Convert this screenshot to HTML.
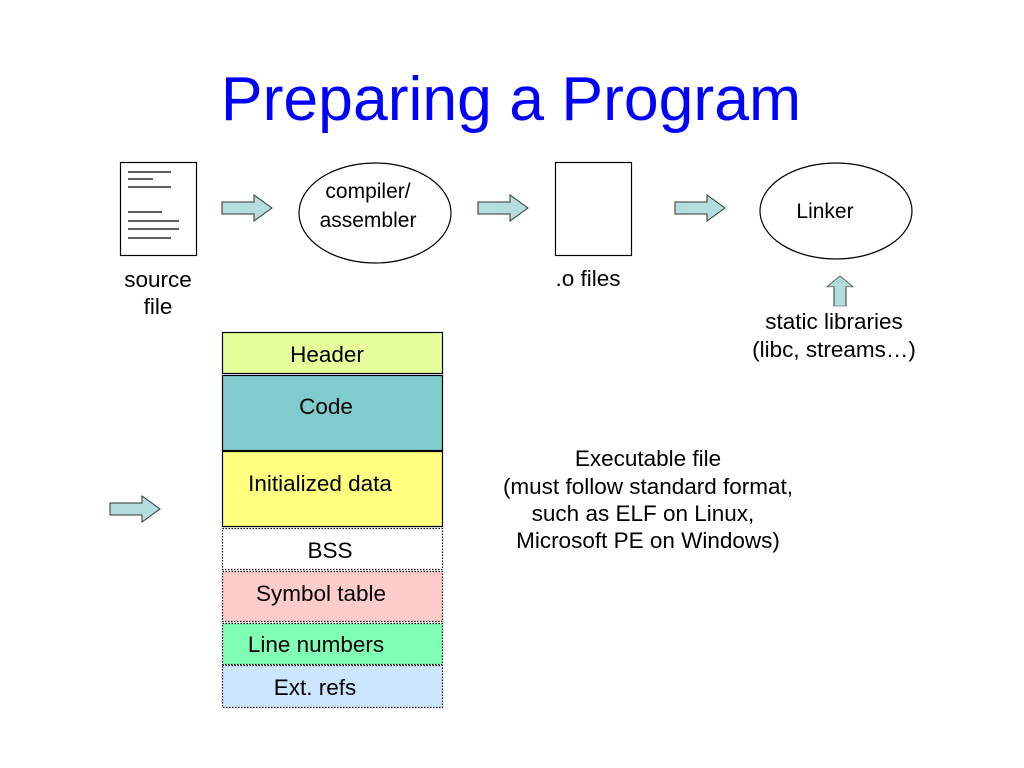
<!DOCTYPE html>
<html><head><style>body{margin:0;background:#fff}svg{display:block}</style></head><body>
<svg width="1024" height="768" xmlns="http://www.w3.org/2000/svg" font-family="Liberation Sans, sans-serif" font-size="22.5">
<text x="511" y="120" text-anchor="middle" font-size="62.5" fill="#0000ff">Preparing a Program</text>
<defs>
<path id="ar" d="M0,-6 H32 V-13 L50,0 L32,13 V6 H0 Z" fill="#b4dede" stroke="#333" stroke-width="1"/>
</defs>
<rect x="120.5" y="162.5" width="76" height="93" fill="#fff" stroke="#000" stroke-width="1.2"/>
<g stroke="#000" stroke-width="1.2">
<line x1="128" y1="172" x2="171" y2="172"/><line x1="128" y1="179" x2="153" y2="179"/><line x1="128" y1="187" x2="171" y2="187"/>
<line x1="128" y1="212" x2="162" y2="212"/><line x1="128" y1="221" x2="179" y2="221"/><line x1="128" y1="229" x2="179" y2="229"/><line x1="128" y1="238" x2="171" y2="238"/>
</g>
<text x="158" y="287" text-anchor="middle">source</text>
<text x="158" y="314" text-anchor="middle">file</text>
<use href="#ar" x="222" y="208"/>
<ellipse cx="375" cy="213" rx="76" ry="50" fill="#fff" stroke="#000" stroke-width="1.2"/>
<text x="368" y="198" text-anchor="middle" font-size="21">compiler/</text>
<text x="368" y="227" text-anchor="middle" font-size="21">assembler</text>
<use href="#ar" x="478" y="208"/>
<rect x="555.5" y="162.5" width="76" height="93" fill="#fff" stroke="#000" stroke-width="1.2"/>
<text x="588" y="286" text-anchor="middle">.o files</text>
<use href="#ar" x="675" y="208"/>
<ellipse cx="836" cy="211" rx="76" ry="48" fill="#fff" stroke="#000" stroke-width="1.2"/>
<text x="825" y="218" text-anchor="middle" font-size="21">Linker</text>
<use href="#ar" transform="translate(840,306) rotate(-90) scale(0.6,1)"/>
<text x="834" y="329" text-anchor="middle">static libraries</text>
<text x="834" y="357" text-anchor="middle">(libc, streams…)</text>
<use href="#ar" x="110" y="509"/>
<rect x="222.5" y="332.5" width="220" height="41" fill="#e6ff9a" stroke="#000" stroke-width="1.2"/>
<text x="327" y="362" text-anchor="middle">Header</text>
<rect x="222.5" y="375.5" width="220" height="75" fill="#80cccc" stroke="#000" stroke-width="1.2"/>
<text x="326" y="414" text-anchor="middle">Code</text>
<rect x="222.5" y="451.5" width="220" height="75" fill="#ffff80" stroke="#000" stroke-width="1.2"/>
<text x="320" y="491" text-anchor="middle">Initialized data</text>
<g stroke="#000" stroke-width="1.2" stroke-dasharray="1.5,1.5">
<rect x="222.5" y="528.5" width="220" height="41" fill="#fff"/>
<rect x="222.5" y="571.5" width="220" height="50" fill="#ffcccc"/>
<rect x="222.5" y="623.5" width="220" height="41" fill="#80ffb4"/>
<rect x="222.5" y="665.5" width="220" height="42" fill="#cce6ff"/>
</g>
<text x="330" y="558" text-anchor="middle">BSS</text>
<text x="321" y="601" text-anchor="middle">Symbol table</text>
<text x="316" y="652" text-anchor="middle">Line numbers</text>
<text x="315" y="695" text-anchor="middle">Ext. refs</text>
<text x="648" y="466" text-anchor="middle">Executable file</text>
<text x="648" y="494" text-anchor="middle">(must follow standard format,</text>
<text x="643" y="521" text-anchor="middle">such as ELF on Linux,</text>
<text x="648" y="548" text-anchor="middle">Microsoft PE on Windows)</text>
</svg>
</body></html>
